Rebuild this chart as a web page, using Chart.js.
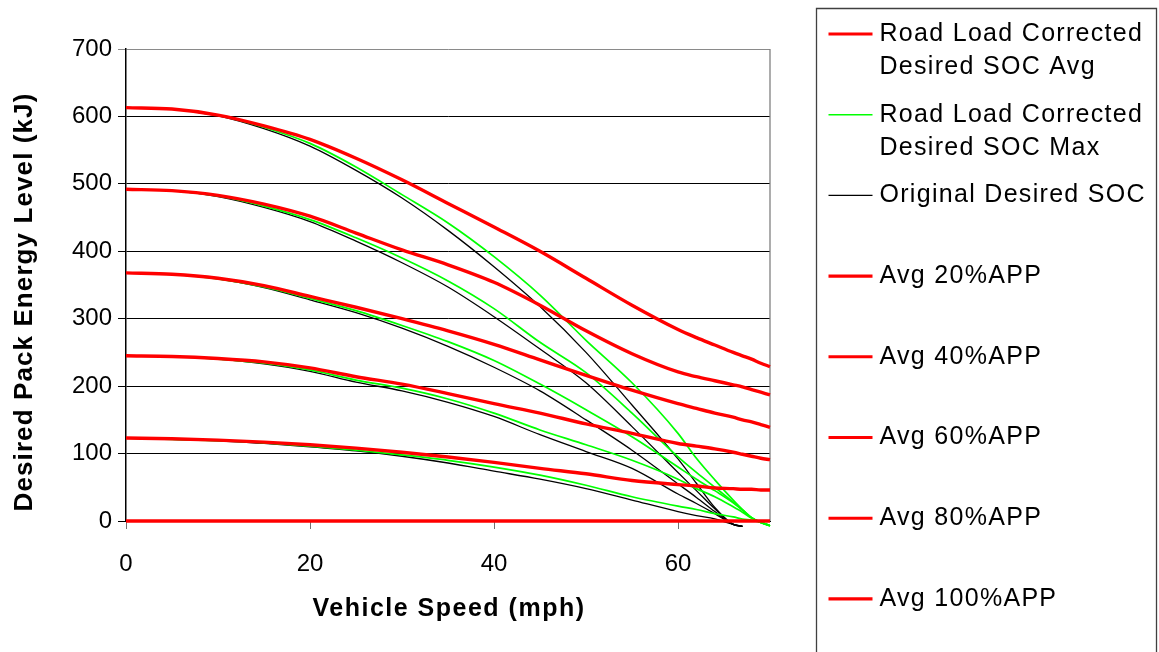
<!DOCTYPE html>
<html>
<head>
<meta charset="utf-8">
<title>Desired Pack Energy Level vs Vehicle Speed</title>
<script src="https://cdn.jsdelivr.net/npm/chart.js@4/dist/chart.umd.min.js"></script>
<style>
  html, body { margin: 0; padding: 0; background: #fff; }
  canvas { display: block; }
</style>
</head>
<body>
<canvas id="chart" width="1159" height="652"></canvas>
<script>
// Vehicle speed samples (mph)
const speeds = [0, 5, 10, 15, 20, 25, 30, 35, 40, 45, 50, 55, 60, 62, 64, 66, 67, 68, 69, 70];

// Road-load corrected desired pack energy, average (kJ)
const avgCorrected = [613, 611, 602, 586, 566, 538, 506, 471, 436, 400, 360, 320, 284, 272, 261, 250, 245, 240, 234, 229];
const avg20 = [492, 490, 483, 470, 452, 427, 402, 380, 354, 320, 282, 248, 221, 214, 208, 202, 199, 195, 191, 187];
const avg40 = [368, 366, 360, 349, 333, 317, 300, 282, 262, 239, 216, 194, 174, 167, 160, 154, 150, 147, 143, 139];
const avg60 = [245, 244, 241, 236, 227, 214, 203, 189, 174, 160, 144, 130, 115, 111, 107, 102, 99, 96, 93, 91];
const avg80 = [123, 122, 120, 117, 113, 108, 102, 95, 87, 78, 70, 60, 54, 52, 49, 48, 47, 47, 46, 46];
const avg100 = [0, 0, 0, 0, 0, 0, 0, 0, 0, 0, 0, 0, 0, 0, 0, 0, 0, 0, 0, 0];

// Road-load corrected desired pack energy, maximum (kJ)
const max1 = [613, 611, 602, 584, 560, 525, 484, 442, 392, 335, 268, 205, 130, 93, 61, 31, 17, 5, -2, -7];
const max2 = [492, 490, 482, 467, 447, 420, 390, 356, 315, 265, 220, 160, 95, 72, 50, 28, 17, 5, -2, -7];
const max3 = [368, 366, 359, 347, 330, 312, 290, 266, 238, 203, 165, 125, 80, 62, 45, 27, 16, 5, -2, -7];
const max4 = [245, 244, 240, 234, 224, 209, 197, 181, 160, 135, 113, 90, 62, 48, 36, 21, 13, 4, -2, -7];
const max5 = [123, 121, 119, 116, 111, 105, 98, 90, 80, 68, 53, 36, 22, 17, 11, 6, 3, 1, -2, -7];

// Original desired pack energy (kJ)
const orig1 = [613, 611, 601, 582, 556, 520, 479, 431, 377, 318, 250, 172, 92, 56, 20, -5, -8, null, null, null];
const orig2 = [492, 490, 481, 465, 444, 415, 383, 347, 303, 255, 205, 140, 72, 45, 18, -5, -8, null, null, null];
const orig3 = [368, 366, 359, 346, 328, 309, 286, 259, 228, 193, 150, 105, 55, 35, 14, -5, -8, null, null, null];
const orig4 = [245, 244, 240, 233, 222, 206, 193, 176, 155, 128, 103, 78, 40, 26, 11, -5, -8, null, null, null];
const orig5 = [123, 121, 119, 115, 110, 104, 96, 86, 74, 62, 48, 31, 14, 8, 3, -5, -8, null, null, null];

// Axis ticks
const xTicks = [0, 20, 40, 60];
const yTicks = [0, 100, 200, 300, 400, 500, 600, 700];

// Axis titles
const xTitle = 'Vehicle Speed (mph)';
const yTitle = 'Desired Pack Energy Level (kJ)';

const FONT = "'Liberation Sans', Arial, Helvetica, sans-serif";
const RED = '#ff0000';
const GREEN = '#00ff00';
const BLACK = '#000000';

function points(values) {
  return values.map((v, i) => ({ x: speeds[i], y: v }));
}

function line(label, values, color, width, order, inLegend) {
  return {
    label: label,
    data: points(values),
    borderColor: color,
    backgroundColor: color,
    borderWidth: width,
    pointRadius: 0,
    pointHoverRadius: 0,
    fill: false,
    cubicInterpolationMode: 'monotone',
    spanGaps: false,
    clip: 10,
    order: order,
    inLegend: inLegend
  };
}

const datasets = [
  line('Road Load Corrected\nDesired SOC Avg', avgCorrected, RED, 3.4, 1, true),
  line('Road Load Corrected\nDesired SOC Max', max1, GREEN, 1.7, 2, true),
  line('Road Load Corrected\nDesired SOC Max', max2, GREEN, 1.7, 2, false),
  line('Road Load Corrected\nDesired SOC Max', max3, GREEN, 1.7, 2, false),
  line('Road Load Corrected\nDesired SOC Max', max4, GREEN, 1.7, 2, false),
  line('Road Load Corrected\nDesired SOC Max', max5, GREEN, 1.7, 2, false),
  line('Original Desired SOC', orig1, BLACK, 1.3, 3, true),
  line('Original Desired SOC', orig2, BLACK, 1.3, 3, false),
  line('Original Desired SOC', orig3, BLACK, 1.3, 3, false),
  line('Original Desired SOC', orig4, BLACK, 1.3, 3, false),
  line('Original Desired SOC', orig5, BLACK, 1.3, 3, false),
  line('Avg 20%APP', avg20, RED, 3.4, 1, true),
  line('Avg 40%APP', avg40, RED, 3.4, 1, true),
  line('Avg 60%APP', avg60, RED, 3.4, 1, true),
  line('Avg 80%APP', avg80, RED, 3.4, 1, true),
  line('Avg 100%APP', avg100, RED, 3.4, 0, true)
];

// Boxed legend on the right, one slot per series, long names wrapped onto two lines
const boxedLegend = {
  id: 'boxedLegend',
  afterDraw(chart) {
    const ctx = chart.ctx;
    const area = chart.chartArea;
    const boxLeft = area.right + 46.5;
    const boxTop = 8.5;
    const boxRight = chart.width - 2.5;
    const entries = chart.data.datasets.filter(ds => ds.inLegend);
    ctx.save();
    ctx.strokeStyle = '#404040';
    ctx.lineWidth = 1.3;
    ctx.beginPath();
    ctx.moveTo(boxLeft, chart.height + 5);
    ctx.lineTo(boxLeft, boxTop);
    ctx.lineTo(boxRight, boxTop);
    ctx.lineTo(boxRight, chart.height + 5);
    ctx.stroke();

    ctx.font = '25px ' + FONT;
    ctx.letterSpacing = '1.3px';
    ctx.fillStyle = '#000';
    ctx.textBaseline = 'middle';
    ctx.textAlign = 'left';
    const firstY = 34;
    const slot = 80.7;
    const lineGap = 33;
    entries.forEach((ds, i) => {
      const y = firstY + i * slot;
      ctx.strokeStyle = ds.borderColor;
      ctx.lineWidth = Math.max(ds.borderWidth * 0.9, 1.2);
      ctx.beginPath();
      ctx.moveTo(boxLeft + 12, y);
      ctx.lineTo(boxLeft + 56, y);
      ctx.stroke();
      ds.label.split('\n').forEach((txt, k) => {
        ctx.fillText(txt, boxLeft + 63, y + k * lineGap);
      });
    });
    ctx.restore();
  }
};

// Bold axis titles, slightly letter-spaced
const axisTitles = {
  id: 'axisTitles',
  afterDraw(chart) {
    const { ctx, chartArea: a } = chart;
    ctx.save();
    ctx.fillStyle = '#000';
    ctx.textAlign = 'center';
    ctx.textBaseline = 'middle';
    ctx.font = 'bold 25px ' + FONT;
    ctx.letterSpacing = '1.5px';
    ctx.fillText(xTitle, (a.left + a.right) / 2 + 1, a.bottom + 88);
    ctx.translate(25, (a.top + a.bottom) / 2 + 17);
    ctx.rotate(-Math.PI / 2);
    ctx.font = 'bold 26px ' + FONT;
    ctx.letterSpacing = '1.1px';
    ctx.fillText(yTitle, 0, 0);
    ctx.restore();
  }
};

// Grey frame on the right edge of the plot area
const plotFrame = {
  id: 'plotFrame',
  beforeDatasetsDraw(chart) {
    const { ctx, chartArea: a } = chart;
    ctx.save();
    ctx.strokeStyle = '#808080';
    ctx.lineWidth = 1.3;
    ctx.beginPath();
    ctx.moveTo(a.right, a.top);
    ctx.lineTo(a.right, a.bottom);
    ctx.stroke();
    ctx.restore();
  }
};

new Chart(document.getElementById('chart'), {
  type: 'line',
  data: { datasets: datasets },
  plugins: [plotFrame, axisTitles, boxedLegend],
  options: {
    responsive: false,
    animation: false,
    events: [],
    layout: { padding: { left: 0, top: 49, right: 389, bottom: 0 } },
    plugins: {
      legend: { display: false },
      tooltip: { enabled: false },
      title: { display: false }
    },
    scales: {
      x: {
        type: 'linear',
        min: 0,
        max: 70,
        afterBuildTicks: s => { s.ticks = xTicks.map(v => ({ value: v })); },
        afterFit: s => { s.height = 131; },
        grid: { drawOnChartArea: false, drawTicks: true, tickLength: 8, color: '#707070', lineWidth: 1 },
        border: { display: true, color: '#000', width: 1 },
        ticks: { color: '#000', font: { family: FONT, size: 24 }, padding: 21, maxRotation: 0 },
        title: { display: false }
      },
      y: {
        type: 'linear',
        min: 0,
        max: 700,
        afterBuildTicks: s => { s.ticks = yTicks.map(v => ({ value: v })); },
        afterFit: s => { s.width = 126; },
        grid: {
          drawTicks: true,
          tickLength: 8,
          lineWidth: 1,
          color: c => (c.tick && c.tick.value === 700 ? '#8a8a8a' : '#000')
        },
        border: { display: true, color: '#000', width: 1.5 },
        ticks: { color: '#000', font: { family: FONT, size: 24 }, padding: 6 },
        title: { display: false }
      }
    }
  }
});
</script>
</body>
</html>
